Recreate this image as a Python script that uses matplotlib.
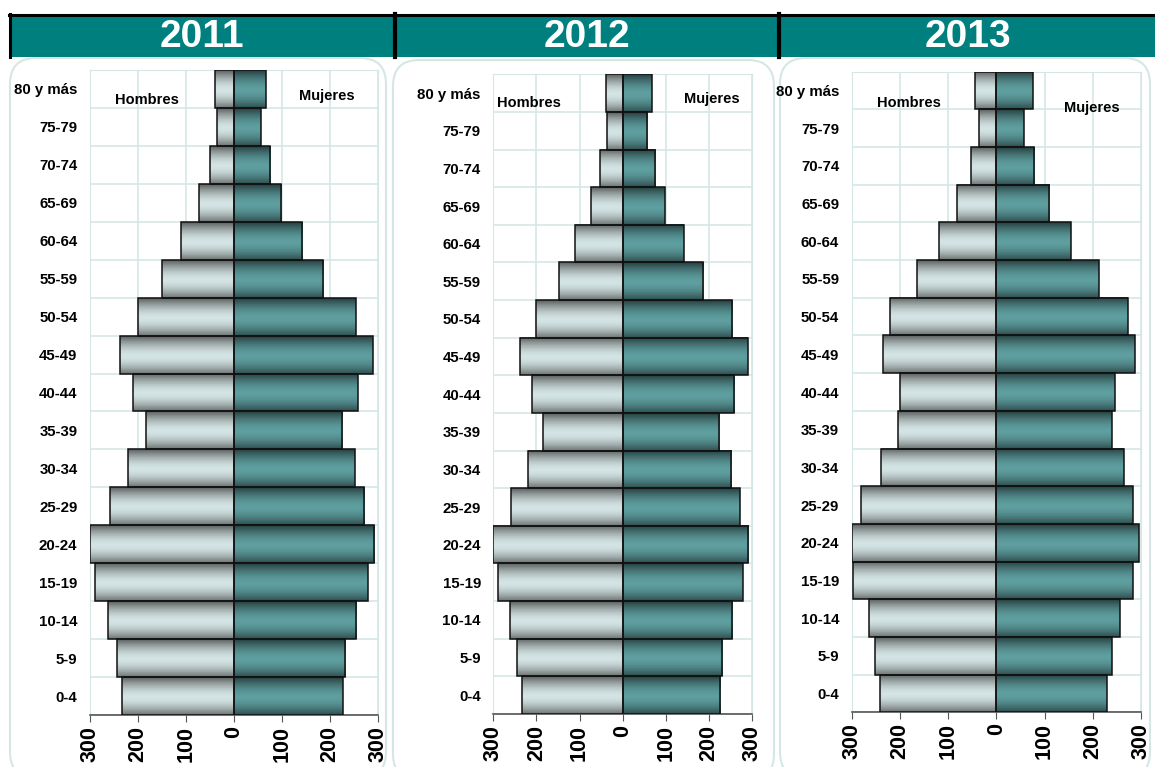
import numpy as np
import matplotlib
matplotlib.use("Agg")
import matplotlib.pyplot as plt
from matplotlib.patches import FancyBboxPatch, Rectangle

plt.rcParams['font.family'] = ['Liberation Sans', 'DejaVu Sans']

# grupos de edad, de abajo hacia arriba
edades = ['0-4', '5-9', '10-14', '15-19', '20-24', '25-29', '30-34', '35-39',
          '40-44', '45-49', '50-54', '55-59', '60-64', '65-69', '70-74',
          '75-79', '80 y más']

anios = ['2011', '2012', '2013']

hombres_2011 = [233, 244, 262, 290, 300, 258, 221, 183, 210, 237, 201, 149, 110, 73, 51, 36, 39]
mujeres_2011 = [226, 232, 255, 279, 292, 271, 252, 225, 258, 289, 254, 186, 142, 98, 76, 56, 66]

hombres_2012 = [233, 244, 262, 290, 300, 258, 220, 184, 211, 237, 200, 148, 111, 73, 52, 36, 39]
mujeres_2012 = [225, 231, 254, 278, 290, 271, 251, 224, 258, 289, 254, 187, 141, 97, 75, 56, 67]

hombres_2013 = [241, 252, 265, 297, 300, 281, 240, 203, 199, 235, 220, 165, 119, 81, 53, 35, 44]
mujeres_2013 = [230, 240, 257, 283, 296, 284, 265, 240, 245, 287, 273, 213, 155, 110, 79, 57, 76]

xticks = [-300, -200, -100, 0, 100, 200, 300]
xticklabels = ['300', '200', '100', '0', '100', '200', '300']

TEAL = '#007f7f'
GRID = '#d6e6e6'


def gradient(center, edge, n=64):
    # degradado vertical: oscuro en los bordes, claro en el centro
    c = np.array(matplotlib.colors.to_rgb(center))
    e = np.array(matplotlib.colors.to_rgb(edge))
    t = np.linspace(0, 1, n)
    f = np.abs(2 * t - 1.05) ** 1.7
    f = np.clip(f, 0, 1)
    rows = c[None, :] + (e - c)[None, :] * f[:, None]
    return rows[:, None, :]


GRAD_H = gradient('#d4e4e4', '#646868')
GRAD_M = gradient('#5f9fa0', '#2a4647')


def piramide(ax, hombres, mujeres, txt_h, txt_m):
    y = np.arange(len(edades))
    bh = ax.barh(y, -np.array(hombres), height=1.0, facecolor='none',
                 edgecolor='#111111', linewidth=1.1, zorder=4)
    bm = ax.barh(y, mujeres, height=1.0, facecolor='none',
                 edgecolor='#111111', linewidth=1.1, zorder=4)
    for bars, grad in ((bh, GRAD_H), (bm, GRAD_M)):
        for b in bars:
            x0, y0 = b.get_x(), b.get_y()
            ax.imshow(grad, extent=[x0, x0 + b.get_width(), y0, y0 + b.get_height()],
                      aspect='auto', zorder=3, interpolation='bilinear')

    ax.set_xlim(-300, 300)
    ax.set_ylim(-0.5, len(edades) - 0.5)
    ax.set_xticks(xticks)
    ax.set_xticklabels(xticklabels, rotation=90, fontsize=15.5, fontweight='bold')
    ax.set_yticks(y)
    ax.set_yticklabels(edades, fontsize=10.8, fontweight='bold')
    ax.set_yticks(np.arange(len(edades) + 1) - 0.5, minor=True)
    ax.tick_params(axis='y', which='both', length=0, pad=9)
    ax.tick_params(axis='x', length=5, color='#555555', pad=3)
    ax.grid(True, axis='x', color=GRID, lw=1.2)
    ax.grid(True, axis='y', which='minor', color=GRID, lw=1.2)
    ax.set_axisbelow(True)
    for s in ('left', 'right', 'top'):
        ax.spines[s].set_color(GRID)
    ax.spines['bottom'].set_color('#555555')
    ax.spines['bottom'].set_linewidth(1.2)

    ax.text(txt_h[0], txt_h[1], 'Hombres', ha='center', va='center',
            fontsize=10.5, fontweight='bold', zorder=5)
    ax.text(txt_m[0], txt_m[1], 'Mujeres', ha='center', va='center',
            fontsize=10.5, fontweight='bold', zorder=5)


fig = plt.figure(figsize=(11.55, 7.67), dpi=100)

# fondo: cabecera y marcos redondeados (en pixeles)
bg = fig.add_axes([0, 0, 1, 1], zorder=0)
bg.set_xlim(0, 1155)
bg.set_ylim(767, 0)
bg.axis('off')

marcos = [(10, 58, 376, 720), (393, 60, 381, 720), (780, 58, 370, 720)]
for x, y, w, h in marcos:
    bg.add_patch(FancyBboxPatch((x, y), w, h, boxstyle='round,pad=0,rounding_size=26',
                                facecolor='white', edgecolor=GRID, lw=1.5))

bg.add_patch(Rectangle((10, 15), 1145, 42, facecolor=TEAL, edgecolor='none'))
bg.plot([9, 1155], [15, 15], color='black', lw=2.2)
bg.plot([10, 10], [14, 57], color='black', lw=2.2)
for xs in (394.5, 778.5):
    bg.plot([xs, xs], [14, 57], color='black', lw=3)

centros = [202, 587, 968]
for cx, anio in zip(centros, anios):
    bg.text(cx, 37, anio, ha='center', va='center', color='white',
            fontsize=28, fontweight='bold')

# posiciones de los ejes de cada piramide
rects = [[0.0779, 0.0678, 0.2494, 0.8409],
         [0.4271, 0.0691, 0.2242, 0.8340],
         [0.7374, 0.0713, 0.2505, 0.8352]]

datos = [(hombres_2011, mujeres_2011, (-182, 15.71), (193, 15.81)),
         (hombres_2012, mujeres_2012, (-217, 15.73), (207, 15.84)),
         (hombres_2013, mujeres_2013, (-181, 15.68), (198, 15.54))]

for r, (h, m, th, tm) in zip(rects, datos):
    ax = fig.add_axes(r, zorder=2)
    ax.patch.set_alpha(0)
    piramide(ax, h, m, th, tm)

fig.savefig('out.png', dpi=100)
